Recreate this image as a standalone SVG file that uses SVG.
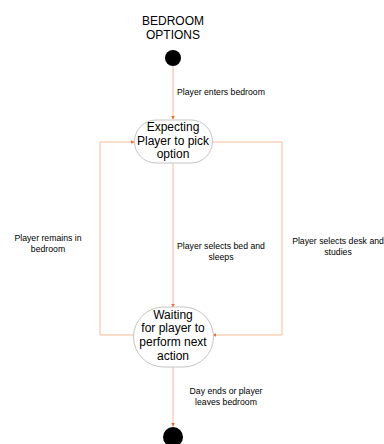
<svg xmlns="http://www.w3.org/2000/svg" width="384" height="444" viewBox="0 0 384 444">
<style>
.t{font-family:"Liberation Sans",Arial,sans-serif;fill:#000}
.title{font-size:12px}
.n{font-size:12px}
.l{font-size:8.7px}
.e{fill:none;stroke:#f6bb9c;stroke-width:1}
.node{fill:#fff;stroke:#c4c4c4;stroke-width:1}
</style>
<defs>
<marker id="ah" viewBox="0 0 6 6" refX="5" refY="3" markerWidth="4" markerHeight="4" orient="auto" markerUnits="userSpaceOnUse">
<path d="M0,0 L6,3 L0,6 z" fill="#e8743b"/>
</marker>
</defs>
<text class="t title" x="173" y="25" text-anchor="middle">BEDROOM</text>
<text class="t title" x="173" y="39" text-anchor="middle">OPTIONS</text>
<g id="start"><circle cx="173" cy="58" r="8" fill="#000"/></g>
<g id="connectors">
<path class="e" d="M173,66 V119" marker-end="url(#ah)"/>
<path class="e" d="M173,163 V307" marker-end="url(#ah)"/>
<path class="e" d="M134,335 H100 V142 H134" marker-end="url(#ah)"/>
<path class="e" d="M212,142 H282 V335 H213" marker-end="url(#ah)"/>
<path class="e" d="M173,367 V426" marker-end="url(#ah)"/>
<text class="t l" x="177" y="95">Player enters bedroom</text>
<text class="t l" x="48" y="241" text-anchor="middle">Player remains in</text>
<text class="t l" x="48" y="252" text-anchor="middle">bedroom</text>
<text class="t l" x="221" y="249" text-anchor="middle">Player selects bed and</text>
<text class="t l" x="221" y="260" text-anchor="middle">sleeps</text>
<text class="t l" x="338" y="244" text-anchor="middle">Player selects desk and</text>
<text class="t l" x="338" y="255" text-anchor="middle">studies</text>
<text class="t l" x="226" y="394" text-anchor="middle">Day ends or player</text>
<text class="t l" x="226" y="405" text-anchor="middle">leaves bedroom</text>
</g>
<g id="expecting">
<rect class="node" x="134.5" y="120" width="78" height="43" rx="21.5" ry="21.5"/>
<text class="t n" x="173" y="131" text-anchor="middle">Expecting</text>
<text class="t n" x="173" y="145" text-anchor="middle">Player to pick</text>
<text class="t n" x="173" y="158" text-anchor="middle">option</text>
</g>
<g id="waiting">
<rect class="node" x="133.5" y="307" width="80" height="60" rx="30" ry="30"/>
<text class="t n" x="173" y="319" text-anchor="middle">Waiting</text>
<text class="t n" x="173" y="332" text-anchor="middle">for player to</text>
<text class="t n" x="173" y="346" text-anchor="middle">perform next</text>
<text class="t n" x="173" y="360" text-anchor="middle">action</text>
</g>
<g id="end"><circle cx="173" cy="437" r="10" fill="#000"/></g>
</svg>
